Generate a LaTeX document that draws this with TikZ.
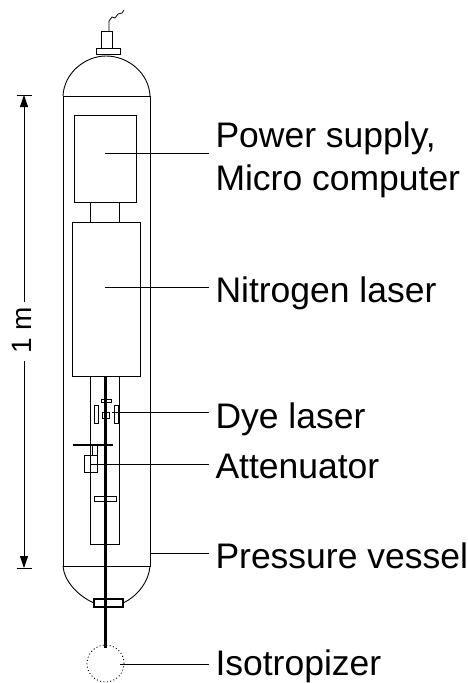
\documentclass[tikz,border=0pt]{standalone}
\usepackage{fontspec}
\setmainfont{Liberation Sans}
\usetikzlibrary{arrows.meta}
\tikzset{
    part/.style={draw, line width=0.9pt, inner sep=0pt, outer sep=0pt},
    heavy/.style={line width=1.4pt},
    leader/.style={line width=0.8pt},
    shell/.style={line width=0.9pt},
    dimarrow/.style={leader, -{Triangle[length=12pt, width=8pt]}},
    caption/.style={anchor=base west, inner sep=0pt, outer sep=0pt, font=\fontsize{35.5}{35.5}\selectfont},
}
% name, left, top, right, bottom, further options
\newcommand{\partbox}[6][]{%
    \node[part, #1, minimum width=#5-#3, minimum height=#6-#4] (#2) at ({(#3+#5)/2}, {(#4+#6)/2}) {};}
\begin{document}
\begin{tikzpicture}[x=1pt, y=-1pt]
    \useasboundingbox (0,0) rectangle (468,683);

    % vessel
    \coordinate (topleft) at (63,96);
    \coordinate (topright) at (150,96);
    \coordinate (botleft) at (63,566);
    \coordinate (botright) at (150,566);
    \draw[shell] (topleft) -- (botleft) -- (botright) -- (topright) -- cycle;
    \draw[shell] (topleft) .. controls (64,73) and (85,56) .. (106,56)
        .. controls (128,56) and (149,73) .. (topright);
    \partbox[heavy]{window}{94}{599}{123}{607}
    \draw[shell] (botleft) .. controls (64,581) and (78,596) .. (window.west);
    \draw[shell] (botright) .. controls (149,581) and (138,596) .. (window.east);

    % top fitting
    \partbox{flange}{96}{48}{120}{54}
    \partbox{plug}{101}{31}{112}{48}
    \coordinate (wirefoot) at (109,31);
    \draw[leader] (wirefoot) -- (109,21) -- (112,17) -- (115,18) -- (118,14) -- (122,13) -- (124,10);

    % boxes
    \partbox{supply}{74}{115}{136}{202}
    \partbox{nitrogen}{72}{222}{140}{376}
    \partbox{optics}{90}{376}{119}{544}
    \draw[part] (supply.south -| optics.west) -- (nitrogen.north -| optics.west);
    \draw[part] (supply.south -| optics.east) -- (nitrogen.north -| optics.east);

    % beam and optics
    \coordinate (beamtop) at (105,376);
    \coordinate (beamend) at (105,648);
    \draw[line width=3pt] (beamtop) -- (beamend);
    \partbox{grating}{101}{399}{111}{402}
    \partbox{mirrorleft}{94}{405}{98}{423}
    \partbox{mirrorright}{114}{405}{118}{423}
    \partbox{dye}{102.5}{412}{109}{418.5}
    \coordinate (barleft) at (73,445);
    \coordinate (barright) at (113,445);
    \draw[heavy] (barleft) -- (barright);
    \partbox{attenuator}{84.5}{455}{97.5}{472}
    \draw[leader] (92,445) -- (92,455);
    \draw[leader] (97,445) -- (97,455);
    \partbox{filter}{94}{496}{116}{501}
    \node[draw, circle, dash pattern=on 1pt off 2.4pt, line width=0.9pt, minimum size=37pt, inner sep=0pt] (isotropizer) at (105.5,663.5) {};

    % labels
    \node[caption] (supplylabel) at (215.5,147) {Power supply,};
    \node[caption] (computerlabel) at (215.5,190) {Micro computer};
    \node[caption] (nitrogenlabel) at (215.5,302) {Nitrogen laser};
    \node[caption] (dyelabel) at (215.5,428) {Dye laser};
    \node[caption] (attenuatorlabel) at (215.5,478) {Attenuator};
    \node[caption] (vessellabel) at (215.5,568) {Pressure vessel};
    \node[caption] (isotropizerlabel) at (215.5,675) {Isotropizer};

    % leaders
    \coordinate (supplystart) at (105,153);
    \coordinate (supplyend) at (209,153);
    \coordinate (nitrogenstart) at (105,287);
    \coordinate (nitrogenend) at (209,287);
    \coordinate (dyestart) at (112,412.5);
    \coordinate (dyeend) at (209,412.5);
    \coordinate (attenuatorstart) at (90,464);
    \coordinate (attenuatorend) at (209,464);
    \coordinate (vesselstart) at (150,553);
    \coordinate (vesselend) at (209,553);
    \coordinate (isotropizerstart) at (120,664);
    \coordinate (isotropizerend) at (209,664);
    \draw[leader] (supplystart) -- (supplyend);
    \draw[leader] (nitrogenstart) -- (nitrogenend);
    \draw[leader] (dyestart) -- (dyeend);
    \draw[leader] (attenuatorstart) -- (attenuatorend);
    \draw[leader] (vesselstart) -- (vesselend);
    \draw[leader] (isotropizerstart) -- (isotropizerend);

    % one metre
    \coordinate (dimtop) at (24,95);
    \coordinate (dimbot) at (24,568);
    \coordinate (gaptop) at (24,302);
    \coordinate (gapbot) at (24,361);
    \node[rotate=90, anchor=base, inner sep=0pt, font=\fontsize{28}{28}\selectfont] (metre) at (31,330) {1 m};
    \draw[dimarrow] (gaptop) -- (dimtop);
    \draw[dimarrow] (gapbot) -- (dimbot);
    \draw[leader] (16.5,95) -- (31.5,95);
    \draw[leader] (16.5,568) -- (31.5,568);
\end{tikzpicture}
\end{document}
